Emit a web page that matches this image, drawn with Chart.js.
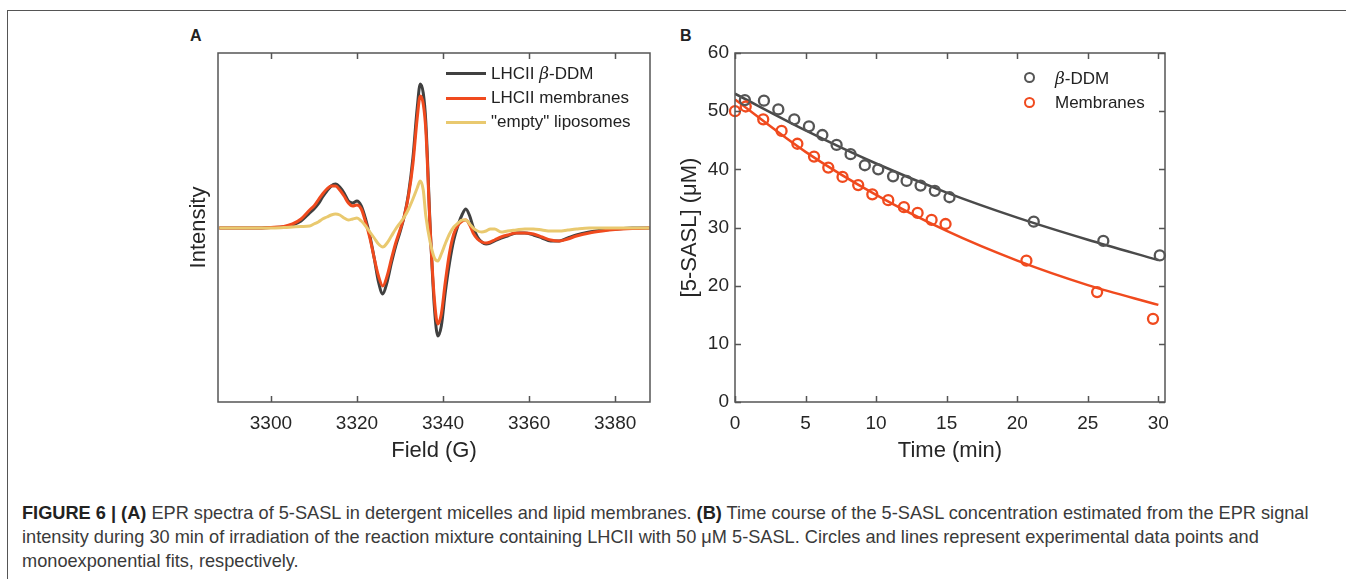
<!DOCTYPE html>
<html>
<head>
<meta charset="utf-8">
<script src="https://cdn.jsdelivr.net/npm/chart.js@4.4.0/dist/chart.umd.min.js"></script>
<style>
  body { margin: 0; background: #fff; width: 1346px; height: 579px; overflow: hidden; position: relative; font-family: "Liberation Sans", Arial, sans-serif; color: #222; }
  .frame { position: absolute; left: 7px; top: 10px; right: 0; bottom: -2px; border-top: 1.5px solid #555; border-left: 1.5px solid #555; }
  canvas { position: absolute; }
  .letter { position: absolute; font-weight: bold; font-size: 16px; }
  .legend { position: absolute; font-size: 17px; color: #222; }
  .legend .row { position: absolute; white-space: nowrap; height: 24px; line-height: 24px; }
  .legend .sw { position: absolute; }
  .caption { position: absolute; left: 22px; top: 501px; font-size: 18.2px; line-height: 24px; color: #3a3a3a; white-space: nowrap; }
  .caption b { color: #222; }
</style>
</head>
<body>
<div class="frame"></div>
<div class="letter" style="left:190px; top:27px;">A</div>
<div class="letter" style="left:680px; top:27px;">B</div>
<canvas id="eprChart" width="510" height="450" style="left:160px; top:30px;"></canvas>
<canvas id="decayChart" width="520" height="450" style="left:660px; top:30px;"></canvas>
<div id="legendA" class="legend"></div>
<div id="legendB" class="legend"></div>
<div class="caption"><b>FIGURE 6 | (A)</b> EPR spectra of 5-SASL in detergent micelles and lipid membranes. <b>(B)</b> Time course of the 5-SASL concentration estimated from the EPR signal<br>intensity during 30 min of irradiation of the reaction mixture containing LHCII with 50 μM 5-SASL. Circles and lines represent experimental data points and<br>monoexponential fits, respectively.</div>
<script>
// panel A: EPR spectra (intensity in arbitrary units)
const field = [
  3288, 3292, 3296, 3300, 3303, 3305, 3307, 3309, 3310, 3311,
  3312, 3313, 3314, 3315, 3316, 3317, 3318, 3319, 3320, 3321,
  3322, 3323, 3324, 3325, 3326, 3327, 3328, 3329, 3330, 3331,
  3332, 3333, 3334, 3334.7, 3335.4, 3336, 3337, 3338, 3338.8, 3339.6,
  3340.5, 3341.5, 3342.5, 3343.5, 3344.5, 3345.3, 3346.2, 3347, 3348, 3349,
  3350, 3351, 3352, 3353.5, 3355, 3357, 3359, 3361, 3363, 3365,
  3367, 3369, 3371, 3374, 3377, 3380, 3384, 3388
];
const ddmSpectrum = [
  0, 0, 0, 0.5, 1, 3, 7, 15, 19, 24,
  31, 37, 42, 44, 41, 35, 27, 25, 27, 22,
  9, -8, -30, -54, -66, -54, -35, -18, -4, 12,
  35, 70, 120, 144, 135, 106, 2, -80, -108, -98,
  -65, -35, -12, 3, 14, 19, 12, 1, -9, -14,
  -16, -15, -13, -10, -8, -5, -5, -7, -10, -13,
  -13, -10, -7, -4, -2, -1, 0, 0
];
const membraneSpectrum = [
  0, 0, 0, 0.5, 1.5, 4, 9, 18, 22, 28,
  34, 39, 42, 42, 38, 32, 25, 22, 23, 19,
  6, -10, -30, -48, -58, -48, -31, -15, -2, 12,
  33, 64, 110, 132, 124, 98, 0, -72, -96, -86,
  -55, -25, -6, 3, 7, 8, 3, -5, -11, -14,
  -15, -14, -12, -9, -7, -5, -5, -6, -9, -12,
  -13, -11, -8, -5, -3, -1.5, -0.5, 0
];
const liposomeSpectrum = [
  0, 0, 0, 0, 0.5, 1, 1.5, 2, 4, 6,
  9, 11, 13, 14, 13, 10, 8, 9, 10, 7,
  2, -4, -10, -16, -19, -15, -8, -1, 5, 11,
  19, 29, 40, 47, 38, 12, -14, -30, -33, -26,
  -16, -6, 1, 5, 8, 8, 4, 0, -3, -4,
  -3, -1, -1, -4, -3, -2, -1, -1, -2, -3,
  -3, -2, -1, 0, 0, 0, 0, 0
];
const spectrumLabels = ['LHCII β-DDM', 'LHCII membranes', '"empty" liposomes'];
const fieldTicks = [3300, 3320, 3340, 3360, 3380];

// panel B: 5-SASL concentration (uM) vs time (min)
const timeDdm = [0.7, 2.05, 3.07, 4.2, 5.24, 6.19, 7.2, 8.19, 9.2, 10.15, 11.2, 12.16, 13.15, 14.16, 15.2, 21.17, 26.1, 30.1];
const concDdm = [51.9, 51.8, 50.3, 48.6, 47.4, 45.9, 44.2, 42.6, 40.7, 40.0, 38.8, 38.0, 37.2, 36.3, 35.2, 31.0, 27.7, 25.2];
const timeMem = [0, 0.76, 2.0, 3.3, 4.42, 5.6, 6.61, 7.62, 8.73, 9.73, 10.86, 11.97, 12.94, 13.93, 14.92, 20.65, 25.66, 29.62];
const concMem = [50.0, 50.8, 48.6, 46.6, 44.4, 42.2, 40.3, 38.7, 37.3, 35.7, 34.7, 33.5, 32.5, 31.3, 30.6, 24.3, 18.9, 14.3];
const fitTime = [0, 5, 10, 15, 20, 25, 30];
const fitDdm = [53.0, 46.7, 41.0, 36.0, 31.7, 27.9, 24.4];
const fitMem = [52.0, 43.0, 35.6, 29.4, 24.3, 20.1, 16.7];
const decayLabels = ['β-DDM', 'Membranes'];

const DARK = '#404040';
const RED = '#f04a1e';
const YELLOW = '#e9c96f';
const GREY = '#555555';

const toXY = (xs, ys) => xs.map((x, i) => ({ x, y: ys[i] }));

// box around the plot area plus inward tick marks
const frameTicks = {
  id: 'frameTicks',
  afterDraw(chart, args, opts) {
    const { ctx, chartArea: a, scales } = chart;
    ctx.save();
    ctx.strokeStyle = '#555';
    ctx.lineWidth = 1.5;
    ctx.strokeRect(a.left, a.top, a.right - a.left, a.bottom - a.top);
    ctx.beginPath();
    const len = 6;
    scales.x.ticks.forEach(t => {
      const px = Math.round(scales.x.getPixelForValue(t.value)) + 0.5;
      ctx.moveTo(px, a.bottom); ctx.lineTo(px, a.bottom - len);
      ctx.moveTo(px, a.top); ctx.lineTo(px, a.top + len);
    });
    if (opts.yTicks) {
      scales.y.ticks.forEach(t => {
        const py = Math.round(scales.y.getPixelForValue(t.value)) + 0.5;
        ctx.moveTo(a.left, py); ctx.lineTo(a.left + len, py);
        ctx.moveTo(a.right, py); ctx.lineTo(a.right - len, py);
      });
    }
    ctx.stroke();
    ctx.restore();
  }
};

const tickFont = { family: 'Liberation Sans', size: 19 };
const titleFont = { family: 'Liberation Sans', size: 22 };
const noGrid = { display: false, drawTicks: false };

const eprChart = new Chart(document.getElementById('eprChart'), {
  type: 'line',
  data: {
    datasets: [
      { label: spectrumLabels[2], data: toXY(field, liposomeSpectrum), borderColor: YELLOW, order: 0 },
      { label: spectrumLabels[1], data: toXY(field, membraneSpectrum), borderColor: RED, order: 1 },
      { label: spectrumLabels[0], data: toXY(field, ddmSpectrum), borderColor: DARK, order: 2 }
    ]
  },
  options: {
    responsive: false,
    animation: false,
    layout: { padding: { top: 23, right: 20, left: 0, bottom: 0 } },
    elements: {
      line: { borderWidth: 3, cubicInterpolationMode: 'monotone' },
      point: { radius: 0 }
    },
    plugins: { legend: { display: false }, tooltip: { enabled: false }, frameTicks: { yTicks: false } },
    scales: {
      x: {
        type: 'linear', min: 3287.7, max: 3388.1,
        afterFit: s => { s.height = 78; },
        afterBuildTicks: s => { s.ticks = fieldTicks.map(v => ({ value: v })); },
        grid: noGrid, border: { display: false },
        ticks: { font: tickFont, color: '#262626', padding: 10, callback: v => v },
        title: { display: true, text: 'Field (G)', font: titleFont, color: '#262626', padding: { bottom: 16 } }
      },
      y: {
        min: -174, max: 175,
        afterFit: s => { s.width = 58; },
        grid: noGrid, border: { display: false },
        ticks: { display: false },
        title: { display: true, text: 'Intensity', font: titleFont, color: '#262626', padding: { top: 26 } }
      }
    }
  },
  plugins: [frameTicks]
});

const decayChart = new Chart(document.getElementById('decayChart'), {
  type: 'scatter',
  data: {
    datasets: [
      { label: decayLabels[0], data: toXY(timeDdm, concDdm), borderColor: GREY, order: 0, clip: false },
      { label: decayLabels[1], data: toXY(timeMem, concMem), borderColor: RED, order: 0, clip: false },
      { type: 'line', data: toXY(fitTime, fitDdm), borderColor: '#4a4a4a', borderWidth: 2.5, pointRadius: 0, cubicInterpolationMode: 'monotone', order: 1 },
      { type: 'line', data: toXY(fitTime, fitMem), borderColor: RED, borderWidth: 2.5, pointRadius: 0, cubicInterpolationMode: 'monotone', order: 1 }
    ]
  },
  options: {
    responsive: false,
    animation: false,
    layout: { padding: { top: 23, right: 15, left: 0, bottom: 0 } },
    elements: { point: { radius: 5, borderWidth: 2.3, backgroundColor: 'rgba(0,0,0,0)' } },
    plugins: { legend: { display: false }, tooltip: { enabled: false }, frameTicks: { yTicks: true } },
    scales: {
      x: {
        type: 'linear', min: 0, max: 30.47,
        afterFit: s => { s.height = 78; },
        grid: noGrid, border: { display: false },
        ticks: { stepSize: 5, includeBounds: false, font: tickFont, color: '#262626', padding: 10 },
        title: { display: true, text: 'Time (min)', font: titleFont, color: '#262626', padding: { bottom: 16 } }
      },
      y: {
        min: 0, max: 60,
        afterFit: s => { s.width = 75; },
        grid: noGrid, border: { display: false },
        ticks: { stepSize: 10, font: tickFont, color: '#262626', padding: 6 },
        title: { display: true, text: '[5-SASL] (μM)', font: titleFont, color: '#262626', padding: { top: 17 } }
      }
    }
  },
  plugins: [frameTicks]
});

// legends built from the dataset labels
function fmt(label) { return label.replace('β', '<i style="font-family:\'DejaVu Serif\',serif">β</i>'); }

const legA = document.getElementById('legendA');
legA.style.left = '446px'; legA.style.top = '61px';
[[spectrumLabels[0], DARK], [spectrumLabels[1], RED], [spectrumLabels[2], YELLOW]].forEach(([lab, col], i) => {
  const row = document.createElement('div');
  row.className = 'row';
  row.style.top = (i * 24.5) + 'px';
  row.innerHTML = `<span class="sw" style="left:0;top:11px;width:40px;height:3px;background:${col}"></span><span style="margin-left:45px">${fmt(lab)}</span>`;
  legA.appendChild(row);
});

const legB = document.getElementById('legendB');
legB.style.left = '1024px'; legB.style.top = '66px';
[[decayLabels[0], GREY], [decayLabels[1], RED]].forEach(([lab, col], i) => {
  const row = document.createElement('div');
  row.className = 'row';
  row.style.top = (i * 24.5) + 'px';
  row.innerHTML = `<span class="sw" style="left:0;top:6px;width:7px;height:7px;border:2.3px solid ${col};border-radius:50%"></span><span style="margin-left:31px">${fmt(lab)}</span>`;
  legB.appendChild(row);
});
</script>
</body>
</html>
